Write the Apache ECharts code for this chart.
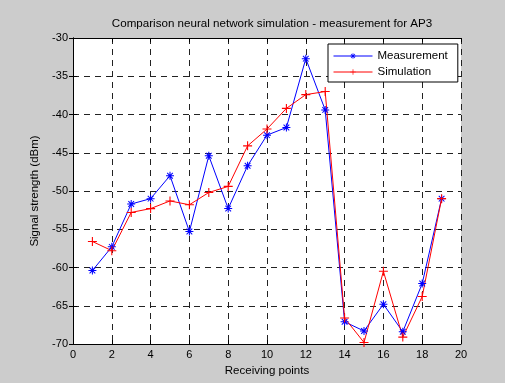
<!DOCTYPE html>
<html><head><meta charset="utf-8">
<script src="https://cdn.jsdelivr.net/npm/echarts@6/dist/echarts.min.js"></script>
<style>html,body{margin:0;padding:0;background:#cccccc;}#c{width:505px;height:383px;}</style>
</head><body><div id="c"></div>
<script>
const points = [1,2,3,4,5,6,7,8,9,10,11,12,13,14,15,16,17,18,19];
const measurement = [-60.4,-57.3,-51.7,-51.0,-48.0,-55.3,-45.4,-52.3,-46.7,-42.7,-41.7,-32.7,-39.4,-67.1,-68.3,-64.8,-68.4,-62.1,-51.0];
const simulation = [-56.6,-57.8,-52.8,-52.3,-51.3,-51.8,-50.2,-49.4,-44.1,-41.9,-39.2,-37.4,-37.0,-66.6,-69.8,-60.5,-69.1,-63.8,-51.0];
const xTicks = [0,2,4,6,8,10,12,14,16,18,20];
const yTicks = [-70,-65,-60,-55,-50,-45,-40,-35,-30];

const plusPath = 'path://M4.4,0 L5.6,0 L5.6,4.4 L10,4.4 L10,5.6 L5.6,5.6 L5.6,10 L4.4,10 L4.4,5.6 L0,5.6 L0,4.4 L4.4,4.4 Z';
const starPath = 'path://M4.35,0 L5.65,0 L5.65,10 L4.35,10 Z M0,4.35 L10,4.35 L10,5.65 L0,5.65 Z M1.0,1.9 L1.9,1.0 L9.0,8.1 L8.1,9.0 Z M8.1,1.0 L9.0,1.9 L1.9,9.0 L1.0,8.1 Z';

const font = 'Liberation Sans, Arial, sans-serif';
const chart = echarts.init(document.getElementById('c'), null, {renderer:'canvas'});
const lineXY = (arr) => points.map((p,i)=>[p, arr[i]]);
const axisCommon = {
  axisLine:{show:true,lineStyle:{color:'#000',width:1}},
  axisTick:{show:true,inside:true,length:4,lineStyle:{color:'#000'}},
};
chart.setOption({
  animation:false,
  backgroundColor:'#cccccc',
  title:{text:'Comparison neural network simulation - measurement for AP3',left:267,textAlign:'center',top:13,
    textStyle:{fontFamily:font,fontSize:11.6,fontWeight:'normal',color:'#000'}},
  grid:{left:73,right:44,top:38,bottom:39,show:true,backgroundColor:'#fff',borderWidth:0},
  legend:{left:328,top:44,orient:'vertical',backgroundColor:'#fff',borderColor:'#000',borderWidth:1,borderRadius:0,
    padding:[6,10,4,5],itemGap:4,itemWidth:39,itemHeight:7,
    lineStyle:{width:1},
    textStyle:{fontFamily:font,fontSize:11.5,color:'#000'},
    data:['Measurement','Simulation']},
  xAxis:[
    Object.assign({type:'value',min:0,max:20,interval:2,position:'bottom',
      name:'Receiving points',nameLocation:'middle',nameGap:20,
      nameTextStyle:{fontFamily:font,fontSize:11.5,color:'#000'},
      axisLabel:{fontFamily:font,fontSize:11,color:'#000',margin:5},
      splitLine:{show:true,lineStyle:{color:'#222',type:[6,5],width:1}}},axisCommon),
    Object.assign({type:'value',min:0,max:20,interval:2,position:'top',
      axisLabel:{show:false},splitLine:{show:false}},axisCommon)
  ],
  yAxis:[
    Object.assign({type:'value',min:-70,max:-30,interval:5,position:'left',
      name:'Signal strength (dBm)',nameLocation:'middle',nameGap:26,
      nameTextStyle:{fontFamily:font,fontSize:11.5,color:'#000'},
      axisLabel:{fontFamily:font,fontSize:11,color:'#000',margin:5},
      splitLine:{show:true,lineStyle:{color:'#222',type:[6,5],width:1}}},axisCommon),
    Object.assign({type:'value',min:-70,max:-30,interval:5,position:'right',
      axisLabel:{show:false},splitLine:{show:false}},axisCommon)
  ],
  series:[
    {name:'Measurement',type:'line',data:lineXY(measurement),symbol:starPath,symbolSize:8,
      lineStyle:{color:'#0000ff',width:1},itemStyle:{color:'#0000ff'},color:'#0000ff'},
    {name:'Simulation',type:'line',data:lineXY(simulation),symbol:plusPath,symbolSize:9,
      lineStyle:{color:'#ff0000',width:1},itemStyle:{color:'#ff0000'},color:'#ff0000'}
  ]
});
</script></body></html>
